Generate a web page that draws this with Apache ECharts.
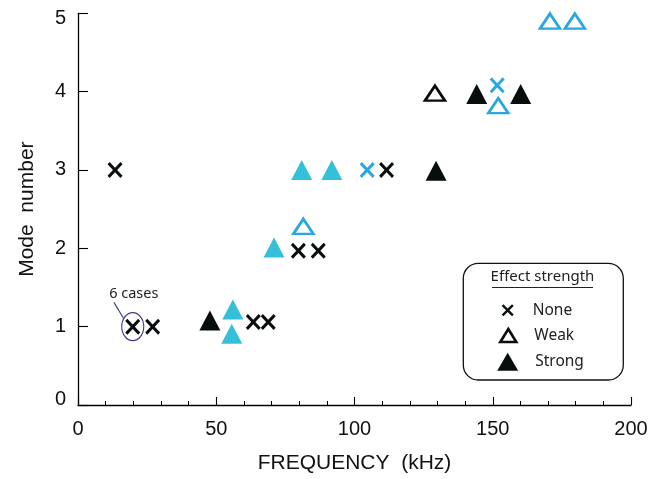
<!DOCTYPE html>
<html><head><meta charset="utf-8">
<script src="https://cdn.jsdelivr.net/npm/echarts@6/dist/echarts.min.js"></script>
<style>html,body{margin:0;padding:0;background:#fff}#c{width:653px;height:479px}</style>
</head><body><div id="c"></div>
<script>
// ---- data ----
const xTickInterval = 50;
const yTickInterval = 1;
const noneBlack   = [[13.4,3.0],[19.8,1.0],[27.0,1.0],[63.4,1.06],[68.8,1.06],[79.7,1.97],[86.9,1.97],[111.6,3.0]];
const noneBlue    = [[104.6,3.0],[151.6,4.08]];
const weakBlack   = [[129.1,3.98]];
const weakBlue    = [[81.5,2.28],[152.0,3.82],[170.7,4.9],[179.7,4.9]];
const strongBlack = [[47.7,1.08],[129.5,2.99],[144.2,3.97],[160.1,3.97]];
const strongBlue  = [[56.0,1.22],[55.6,0.91],[70.9,2.01],[80.9,3.0],[91.8,3.0]];
const legendNames = ['None','Weak','Strong'];
const legendTitle = 'Effect strength';
const annotationText = '6 cases';
const annotationPoint = [19.8,1.0];
const annotationLeader = [[13.0,1.31],[16.4,1.11]];
const xName = 'FREQUENCY  (kHz)';
const yName = 'Mode  number';

// ---- styles ----
const BLACK = '#080d0d', CYAN = '#35c0d9', BLUE = '#2aa7df', NAVY = '#3a3a8a';
const XPATH = 'path://M0,14L14,0L50,36L86,0L100,14L64,50L100,86L86,100L50,64L14,100L0,86L36,50Z';
const FONT = '"Liberation Sans", Arial, sans-serif';
const LFONT = '"Noto Sans", sans-serif';

const chart = echarts.init(document.getElementById('c'), null, {renderer:'canvas'});

function sc(name, data, symbol, size, itemStyle, extra) {
  return Object.assign({
    type:'scatter', name, data, symbol, symbolSize:size, itemStyle,
    emphasis:{disabled:true}, z:3
  }, extra||{});
}

const openStyle = c => ({color:'#fff', borderColor:c, borderWidth:2.6, opacity:1});

const series = [
  sc('Strong', strongBlack, 'triangle', [21,20], {color:BLACK, opacity:1}),
  sc('Strong ', strongBlue, 'triangle', [21,20], {color:CYAN, opacity:1}),
  sc('Weak', weakBlack, 'triangle', [20,15], openStyle(BLACK)),
  sc('Weak ', weakBlue, 'triangle', [20,15], openStyle(BLUE)),
  sc('None', noneBlack, XPATH, [15,16], {color:BLACK, opacity:1}, {
    markPoint:{
      silent:true, symbol:'circle', symbolSize:[22,28],
      itemStyle:{color:'rgba(0,0,0,0)', borderColor:NAVY, borderWidth:1.2},
      label:{show:true, formatter:annotationText, position:'inside', offset:[1,-33],
        color:'#222', fontSize:14.5, fontFamily:LFONT},
      data:[{coord:annotationPoint}]
    },
    markLine:{
      silent:true, symbol:['none','none'], label:{show:false},
      lineStyle:{color:NAVY, width:1.1, type:'solid'},
      data:[[{coord:annotationLeader[0]},{coord:annotationLeader[1]}]]
    }
  }),
  sc('None ', noneBlue, XPATH, [15,16], {color:BLUE, opacity:1})
];

const ltext = pad => ({fontSize:15.5, fontFamily:LFONT, color:'#222', padding:[0,0,0,pad]});

const option = {
  animation:false,
  backgroundColor:'#fff',
  grid:{left:78, right:22, top:13.3, bottom:70.7, containLabel:false},
  xAxis:{
    type:'value', min:0, max:200, interval:xTickInterval,
    name:xName, nameLocation:'middle', nameGap:48,
    nameTextStyle:{fontSize:21, fontFamily:FONT, color:'#111'},
    axisLine:{show:true, onZero:false, lineStyle:{color:'#000', width:1.3}},
    axisTick:{show:true, inside:true, length:8, lineStyle:{color:'#000', width:1.1}},
    minorTick:{show:true, splitNumber:5, length:4, lineStyle:{color:'#000', width:1}},
    axisLabel:{fontSize:20, fontFamily:FONT, color:'#111', margin:14},
    splitLine:{show:false}
  },
  yAxis:{
    type:'value', min:0, max:5, interval:yTickInterval,
    name:yName, nameLocation:'middle', nameGap:40,
    nameTextStyle:{fontSize:21, fontFamily:FONT, color:'#111'},
    axisLine:{show:true, onZero:false, lineStyle:{color:'#000', width:1.3}},
    axisTick:{show:true, inside:true, length:10, lineStyle:{color:'#000', width:1.1}},
    axisLabel:{fontSize:20, fontFamily:FONT, color:'#111', margin:12,
      formatter: v => v === 5 ? '{top|' + v + '}' : (v === 0 ? '{bot|' + v + '}' : String(v)),
      rich:{
        top:{fontSize:20, fontFamily:FONT, color:'#111', padding:[11,0,0,0]},
        bot:{fontSize:20, fontFamily:FONT, color:'#111', padding:[0,0,12,0]}
      }},
    splitLine:{show:false}
  },
  legend:[
    {data:[legendNames[0]], orient:'vertical', left:501.7, top:302.3, padding:0,
     itemWidth:12, itemHeight:12, textStyle:ltext(14), selectedMode:false,
     itemStyle:{color:BLACK, borderWidth:0}},
    {data:[legendNames[1]], orient:'vertical', left:499, top:327.5, padding:0,
     itemWidth:16, itemHeight:13, textStyle:ltext(13), selectedMode:false,
     itemStyle:{color:'#fff', borderColor:BLACK, borderWidth:2.6}},
    {data:[legendNames[2]], orient:'vertical', left:497.2, top:352.7, padding:0,
     itemWidth:21, itemHeight:18, textStyle:ltext(12), selectedMode:false,
     itemStyle:{color:BLACK, borderWidth:0}}
  ],
  graphic:[
    {type:'rect', shape:{x:463.3, y:263.3, width:160, height:116.7, r:15},
     style:{fill:'rgba(0,0,0,0)', stroke:'#111', lineWidth:1.3}, z:1, silent:true},
    {type:'text', x:542.5, y:277, style:{text:legendTitle, fontSize:15, fontFamily:LFONT,
     fill:'#222', align:'center', verticalAlign:'middle'}, z:2, silent:true},
    {type:'line', shape:{x1:492, y1:287.5, x2:593, y2:287.5},
     style:{stroke:'#222', lineWidth:1.2}, z:2, silent:true}
  ],
  series
};
chart.setOption(option);
</script></body></html>
